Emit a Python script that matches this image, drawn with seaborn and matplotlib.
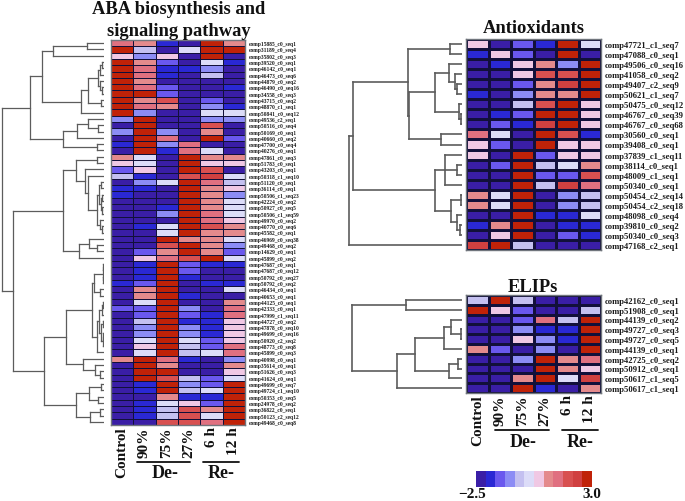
import numpy as np
import pandas as pd
import matplotlib
matplotlib.use("Agg")
import matplotlib.pyplot as plt
from matplotlib.colors import ListedColormap
import seaborn as sns

FW, FH = 685, 502
SERIF = ["Liberation Serif", "DejaVu Serif"]

conditions = ["Control", "90%", "75%", "27%", "6 h", "12 h"]
palette = ["#3a1ea6", "#2a28d4", "#6a58ee", "#8c8cf5", "#c4c0f0", "#dcdcf8",
           "#f0c8e4", "#e48a8c", "#e07080", "#d85050", "#d04040", "#c02208"]
scale_low, scale_high = -2.5, 3.0

aba_genes = ["comp15885_c0_seq1", "comp31189_c0_seq4", "comp35802_c0_seq3", "comp39520_c0_seq1",
             "comp46142_c0_seq1", "comp46473_c0_seq6", "comp44879_c0_seq2", "comp46490_c0_seq16",
             "comp34558_c0_seq3", "comp43715_c0_seq2", "comp48870_c1_seq1", "comp50841_c0_seq12",
             "comp49536_c2_seq1", "comp50516_c0_seq4", "comp50169_c0_seq1", "comp40660_c0_seq2",
             "comp47700_c0_seq4", "comp40276_c0_seq1", "comp47861_c0_seq3", "comp51783_c0_seq1",
             "comp43203_c0_seq1", "comp50318_c1_seq10", "comp51120_c0_seq1", "comp36114_c0_seq1",
             "comp50506_c1_seq23", "comp42224_c0_seq2", "comp50927_c0_seq5", "comp50506_c1_seq59",
             "comp49970_c0_seq2", "comp40770_c0_seq6", "comp45582_c0_seq1", "comp46969_c0_seq38",
             "comp49468_c0_seq2", "comp14629_c0_seq1", "comp45899_c0_seq2", "comp47687_c0_seq1",
             "comp47687_c0_seq12", "comp50792_c0_seq27", "comp50792_c0_seq2", "comp46434_c0_seq1",
             "comp40653_c0_seq1", "comp44125_c0_seq1", "comp42333_c0_seq1", "comp47999_c1_seq11",
             "comp44727_c0_seq2", "comp47878_c0_seq10", "comp49699_c0_seq16", "comp50920_c2_seq2",
             "comp48773_c0_seq8", "comp45899_c0_seq3", "comp40998_c0_seq1", "comp35614_c0_seq1",
             "comp51626_c0_seq3", "comp41624_c0_seq1", "comp49699_c0_seq7", "comp49724_c1_seq10",
             "comp50353_c0_seq5", "comp24978_c0_seq2", "comp36822_c0_seq1", "comp50123_c2_seq12",
             "comp49468_c0_seq8"]
# colour-step readings (0 = lowest band of the scale, 11 = highest)
aba_steps = [[8,7,1,0,11,7],[11,4,0,5,11,11],[6,3,6,0,11,0],[11,7,2,0,5,1],[11,8,1,1,3,0],
             [11,8,1,0,4,0],[11,7,0,0,0,0],[11,8,2,0,0,1],[11,11,2,0,0,0],[11,7,9,0,2,0],
             [11,8,7,0,3,1],[11,3,0,0,5,5],[3,11,0,0,3,3],[0,11,0,0,9,0],[3,11,3,0,7,0],
             [0,11,8,0,11,2],[1,11,3,8,0,0],[0,11,1,8,5,0],[7,5,0,11,7,7],[6,5,0,11,6,6],
             [2,6,0,11,9,0],[4,1,0,9,10,5],[0,3,5,11,8,4],[1,1,0,11,7,6],[1,0,0,11,7,3],
             [0,0,0,11,7,5],[0,0,1,11,7,5],[0,0,3,11,8,5],[0,0,0,11,8,6],[0,1,5,11,9,7],
             [0,0,5,11,7,7],[0,0,11,7,7,5],[0,0,9,11,7,3],[0,2,7,11,7,2],[0,6,8,9,11,5],
             [0,1,11,2,1,1],[0,1,11,2,0,0],[0,1,11,1,0,0],[1,2,11,0,1,1],[0,7,11,0,0,5],
             [0,7,11,1,0,0],[0,5,11,0,0,7],[2,2,11,3,0,8],[0,2,11,2,1,8],[0,4,11,1,1,6],
             [0,3,11,3,1,6],[0,3,11,3,1,6],[0,5,11,5,2,6],[0,6,11,4,2,8],[0,5,11,4,5,8],
             [7,11,8,1,0,3],[0,11,7,0,0,7],[0,11,11,0,0,6],[0,11,9,4,2,5],[0,1,11,3,2,11],
             [0,1,11,4,5,11],[0,0,7,1,1,11],[0,1,5,6,2,11],[0,1,4,9,7,11],[0,1,4,9,5,11],
             [0,0,9,9,8,11]]

anti_genes = ["comp47721_c1_seq7", "comp47088_c0_seq1", "comp49506_c0_seq16", "comp41058_c0_seq2",
              "comp49407_c2_seq9", "comp50621_c1_seq7", "comp50475_c0_seq12", "comp46767_c0_seq39",
              "comp46767_c0_seq68", "comp30560_c0_seq1", "comp39408_c0_seq1", "comp37839_c1_seq11",
              "comp38114_c0_seq1", "comp48009_c1_seq1", "comp50340_c0_seq1", "comp50454_c2_seq14",
              "comp50454_c2_seq18", "comp48098_c0_seq4", "comp39810_c0_seq2", "comp50340_c0_seq3",
              "comp47168_c2_seq1"]
anti_steps = [[6,0,2,1,11,5],[1,6,2,0,11,0],[0,1,6,7,3,11],[0,0,6,9,9,11],[0,0,2,7,10,11],
              [1,0,3,7,7,11],[0,0,4,9,11,6],[0,1,2,11,11,6],[0,2,1,10,11,6],[8,5,0,11,9,1],
              [6,2,0,11,6,6],[6,0,11,2,6,6],[0,2,11,4,5,7],[0,0,11,2,2,9],[0,0,11,4,10,8],
              [7,5,11,0,3,4],[7,5,11,0,3,4],[0,0,11,1,1,5],[1,7,11,0,1,1],[0,6,11,0,2,1],
              [10,11,4,0,0,0]]

elip_genes = ["comp42162_c0_seq1", "comp51908_c0_seq1", "comp44139_c0_seq2", "comp49727_c0_seq3",
              "comp49727_c0_seq5", "comp44139_c0_seq1", "comp42725_c0_seq2", "comp50912_c0_seq1",
              "comp50617_c1_seq5", "comp50617_c1_seq1"]
elip_steps = [[4,11,4,0,0,0],[11,6,2,0,0,4],[0,0,2,8,4,11],[0,0,3,1,1,11],[0,0,6,3,1,11],
              [7,2,0,3,0,11],[0,0,3,11,7,8],[0,0,0,11,7,6],[0,0,7,11,5,10],[0,0,11,1,0,7]]

# Dendrograms: (merge height, child, child, ...); L is a leaf
L = None
aba_a1 = (62, (50.5, (16.5, L, L), L),
          (22.5, (15.5, (5.5, (3.5, (2, L, L), L), (3.5, L, (1.5, L, L))), (3, L, L)), L))
aba_a2 = (41, (26.5, (15.5, L, (6, L, L)), L), (7, L, L))
aba_inner = (7, (4.5, (2.5, L, L), (2.5, (1.5, L, L), (1.5, L, L))), (3.5, L, (1.5, L, L)))
aba_b1 = (40.8, (27.5, (6.5, L, L), (18.5, L, (15.5, L, aba_inner))),
          (24.8, (14.5, L, (6.5, L, L)), L))
aba_b2 = (60, (37.8, (11.8, (9.5, (1, (.5, L, L), (.5, L, L)), (3.5, L, L)),
                      (7, (4.2, (2, (1, L, L), L), (3, (1, L, L), (1, (.5, L, L), L))), L)),
               (20.8, L, (8.5, L, (3.5, L, L)))),
          (27.8, (14.2, (2.5, L, L), (5.8, L, L)), (13.5, (3.5, L, L), L)))
aba_tree = (102, (73.5, aba_a1, aba_a2), (90.8, aba_b1, aba_b2))

anti_u = (54.3, (12, L, L),
          (52.7, (27, (12.7, L, (7.3, L, (4.7, L, L))), (3, L, (1, L, L))), (21, L, L)))
anti_v = (27, (17.3, L, (5.3, L, L), L), (11.3, (.5, L, L), (5.3, L, (2, L, L))))
anti_tree = (113, (109, anti_u, anti_v), L)

elip_tree = (110, (56, L, L),
             (65, (47.3, (18, (10.7, L, (1, L, L)), L), (13.3, (4.3, L, L), L)), L))

cmap = ListedColormap(palette)
step_width = (scale_high - scale_low) / len(palette)


def to_values(steps):
    return scale_low + (np.array(steps, dtype=float) + 0.5) * step_width


sns.set_theme(style="white")
plt.rcParams["font.family"] = SERIF
plt.rcParams["font.weight"] = "bold"

fig = plt.figure(figsize=(FW / 100, FH / 100), dpi=100, facecolor="white")


def px_axes(x0, y0, x1, y1):
    return fig.add_axes([x0 / FW, 1 - y1 / FH, (x1 - x0) / FW, (y1 - y0) / FH])


def fig_text(x, y, s, **kw):
    fig.text(x / FW, 1 - y / FH, s, ha="center", va="center", fontweight="bold",
             family=SERIF, color="#111111", **kw)


def fig_rule(x0, x1, y, lw=1.3):
    fig.add_artist(plt.Line2D([x0 / FW, x1 / FW], [1 - y / FH] * 2, color="#111111", lw=lw))


def draw_tree(ax, node, counter, lw):
    if node is None:
        counter[0] += 1
        return counter[0] - 0.5, 0.0
    kids = [draw_tree(ax, c, counter, lw) for c in node[1:]]
    h = node[0]
    for y, kh in kids:
        ax.plot([kh, h], [y, y], color="#5c5c5c", lw=lw, solid_capstyle="projecting")
    ax.plot([h, h], [kids[0][0], kids[-1][0]], color="#5c5c5c", lw=lw, solid_capstyle="projecting")
    return (kids[0][0] + kids[-1][0]) / 2, h


def panel(steps, genes, tree, box, tree_left, tree_right, label_size, show_x, grid_lw, tree_lw):
    x0, y0, x1, y1 = box
    ax = px_axes(x0, y0, x1, y1)
    df = pd.DataFrame(to_values(steps), index=genes, columns=conditions)
    sns.heatmap(df, ax=ax, cmap=cmap, vmin=scale_low, vmax=scale_high, cbar=False,
                linewidths=grid_lw, linecolor="#12103a",
                xticklabels=show_x, yticklabels=True)
    ax.yaxis.tick_right()
    ax.tick_params(axis="y", length=0, pad=2.5, labelsize=label_size, labelrotation=0)
    ax.tick_params(axis="x", length=0, pad=1, labelsize=11, labelrotation=90)
    for t in ax.get_yticklabels():
        t.set_fontweight("bold")
        t.set_color("#1a1a1a")
    for t in ax.get_xticklabels():
        t.set_fontweight("bold")
        t.set_color("#111111")
    ax.set_xlabel("")
    ax.set_ylabel("")
    for s in ax.spines.values():
        s.set_visible(True)
        s.set_color("#70757c")
        s.set_linewidth(1.0)
    dax = px_axes(tree_left, y0, tree_right, y1)
    dax.set_xlim(tree_right - tree_left, 0)
    dax.set_ylim(len(genes), 0)
    dax.axis("off")
    draw_tree(dax, tree, [0], tree_lw)
    return ax


panel(aba_steps, aba_genes, aba_tree, (111, 41, 245, 426), 0, 103.5, 4.0, True, 0.55, 0.9)
panel(anti_steps, anti_genes, anti_tree, (466, 40, 601, 251), 346, 462, 6.2, False, 0.9, 1.2)
panel(elip_steps, elip_genes, elip_tree, (466, 296, 601, 394), 350, 462, 6.2, True, 0.9, 1.2)

fig_text(179, 9, "ABA biosynthesis and", fontsize=13.3)
fig_text(179, 32, "signaling pathway", fontsize=13.3)
fig_text(534, 29, "Antioxidants", fontsize=13.3)
fig_text(533, 287, "ELIPs", fontsize=13.3)

fig_rule(137, 190, 463)
fig_rule(203, 239, 463)
fig_text(165, 474, "De-", fontsize=13)
fig_text(221, 474, "Re-", fontsize=13)
fig_rule(495, 549, 431)
fig_rule(562, 598, 431)
fig_text(523, 443, "De-", fontsize=13)
fig_text(580, 443, "Re-", fontsize=13)

cax = px_axes(476, 472, 592, 488)
bar = pd.DataFrame([to_values(np.arange(len(palette)))])
sns.heatmap(bar, ax=cax, cmap=cmap, vmin=scale_low, vmax=scale_high, cbar=False,
            xticklabels=False, yticklabels=False)
fig_text(472, 494.5, "\u22122.5", fontsize=11)
fig_text(592, 494.5, "3.0", fontsize=11)

fig.savefig("out.png", dpi=100)
